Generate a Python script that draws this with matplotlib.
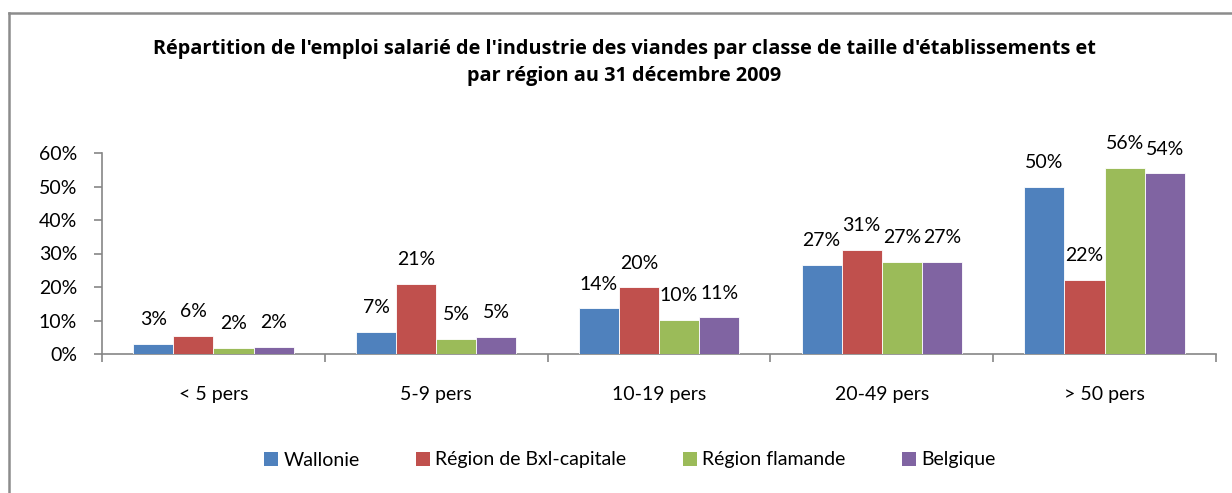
import matplotlib
matplotlib.use("Agg")
import matplotlib.pyplot as plt
from matplotlib.patches import Patch
from matplotlib.lines import Line2D
import numpy as np

categories = ["< 5 pers", "5-9 pers", "10-19 pers", "20-49 pers", "> 50 pers"]
series_names = ["Wallonie", "Région de Bxl-capitale", "Région flamande", "Belgique"]
wallonie = [3.0, 6.6, 13.6, 26.6, 49.9]
bruxelles = [5.5, 20.9, 19.9, 31.1, 22.0]
flandre = [1.8, 4.6, 10.1, 27.4, 55.6]
belgique = [2.1, 5.2, 10.9, 27.4, 53.9]
series_values = [wallonie, bruxelles, flandre, belgique]
y_ticks = [0, 10, 20, 30, 40, 50, 60]
title = ("Répartition de l'emploi salarié de l'industrie des viandes par classe de taille d'établissements et\n"
         "par région au 31 décembre 2009")

colors = ["#4F81BD", "#C0504D", "#9BBB59", "#8064A2"]
FONT = ["Lato", "DejaVu Sans"]
plt.rcParams["font.family"] = FONT

W, H = 1232, 493
fig = plt.figure(figsize=(W / 100, H / 100), dpi=100)
ax = fig.add_axes([102 / W, 1 - 354 / H, (1216 - 102) / W, (354 - 153) / H])

bw = 0.18
x = np.arange(len(categories))
for j, (vals, c) in enumerate(zip(series_values, colors)):
    pos = x + (j - 1.5) * bw
    bars = ax.bar(pos, vals, width=bw, color=c, edgecolor="white", linewidth=0.6, zorder=3)
    for b, v in zip(bars, vals):
        ax.annotate(f"{int(v + 0.5):d}%", (b.get_x() + b.get_width() / 2, v),
                    xytext=(0, 17.5), textcoords="offset points",
                    ha="center", va="center", fontsize=14, color="black", zorder=4)

ax.set_xlim(-0.5, len(categories) - 0.5)
ax.set_ylim(0, 60)
ax.set_yticks(y_ticks)
ax.set_yticklabels([f"{t}%" for t in y_ticks], fontsize=14)
ax.set_xticks(x)
ax.set_xticklabels(categories, fontsize=14)
ax.set_xticks(np.arange(len(categories) + 1) - 0.5, minor=True)
ax.tick_params(axis="x", which="major", length=0, pad=23)
ax.tick_params(axis="x", which="minor", length=6, width=1.2, color="#868686", direction="out")
ax.tick_params(axis="y", which="major", length=6, width=1.2, color="#868686", direction="out", pad=12)
for s in ["top", "right"]:
    ax.spines[s].set_visible(False)
for s in ["left", "bottom"]:
    ax.spines[s].set_color("#868686")
    ax.spines[s].set_linewidth(1.2)

fig.text(624 / W, 1 - 62.5 / H, title, ha="center", va="center", fontsize=14.3,
         fontweight="bold", family=["Open Sans", "DejaVu Sans"], linespacing=1.52)

handles = [Patch(facecolor=c, edgecolor="none") for c in colors]
fig.legend(handles, series_names, loc="center", bbox_to_anchor=(630 / W, 1 - 460 / H),
           ncol=4, frameon=False, fontsize=14, handlelength=0.7, handleheight=0.7,
           handletextpad=0.3, columnspacing=2.9)

# outer chart frame (left and top edges visible)
fig.add_artist(Line2D([8.5 / W, 8.5 / W], [0, 1 - 12.5 / H], transform=fig.transFigure,
                      color="#8c8c8c", linewidth=1.8))
fig.add_artist(Line2D([8.5 / W, 1], [1 - 12.5 / H, 1 - 12.5 / H], transform=fig.transFigure,
                      color="#8c8c8c", linewidth=1.8))

fig.savefig("out.png", dpi=100)
